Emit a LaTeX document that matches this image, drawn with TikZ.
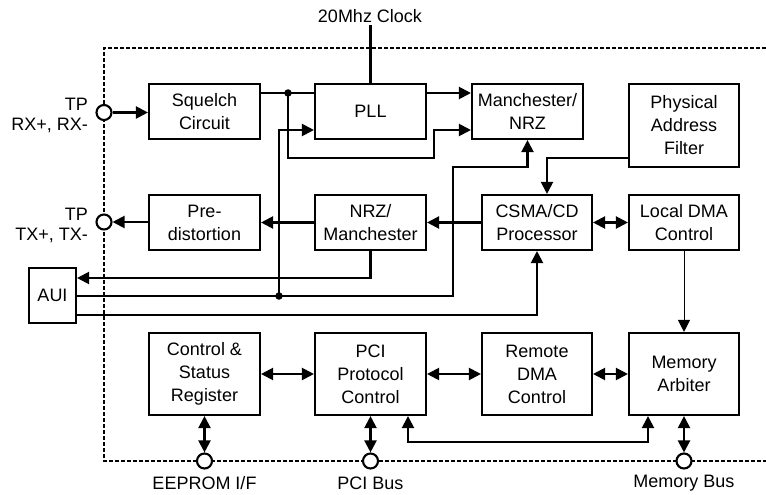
\documentclass[tikz,border=0pt]{standalone}
\usepackage{fontspec}
\setmainfont{Liberation Sans}
\usetikzlibrary{arrows.meta}
\begin{document}
\begin{tikzpicture}[x=1pt,y=-1pt,
  box/.style={draw, line width=2.1pt, minimum width=111pt, minimum height=55pt, align=center, inner sep=0pt, font=\fontsize{18}{23}\selectfont},
  tall/.style={box, minimum height=82pt},
  port/.style={circle, draw, fill=white, line width=2.1pt, minimum size=15pt, inner sep=0pt},
  conn/.style={line width=2.1pt},
  arr/.style={conn, -{Triangle[length=12pt,width=12pt]}},
  thinarr/.style={line width=1pt, -{Triangle[length=12pt,width=12pt]}},
  darr/.style={conn, {Triangle[length=12pt,width=12pt]}-{Triangle[length=12pt,width=12pt]}},
  dot/.style={circle, fill, inner sep=0pt, minimum size=7.5pt},
  lbl/.style={font=\fontsize{18}{20}\selectfont, inner sep=2pt},
  frame/.style={line width=1.5pt, dash pattern=on 4pt off 2pt}
]
\useasboundingbox (0,0) rectangle (766,495);

% dashed chip boundary
\draw[frame] (766,48) -- (104,48) -- (104,461) -- (766,461);

% blocks
\node[box] (sq) at (204.5,111.5) {Squelch\\Circuit};
\node[box] (pll) at (370.5,111.5) {PLL};
\node[box] (mn) at (527.5,111.5) {Manchester/\\NRZ};
\node[box, minimum width=110pt, minimum height=83pt] (paf) at (684,125.5) {Physical\\Address\\Filter};
\node[box] (pre) at (204.5,222.5) {Pre-\\distortion};
\node[box] (nm) at (370.5,222.5) {NRZ/\\Manchester};
\node[box, minimum width=110pt] (csma) at (537,222.5) {CSMA/CD\\Processor};
\node[box, minimum width=110pt] (ldma) at (684,222.5) {Local DMA\\Control};
\node[box, minimum width=47pt] (aui) at (52.5,295.5) {AUI};
\node[tall] (csr) at (204.5,374) {Control \&\\Status\\Register};
\node[tall] (pci) at (370.5,374) {PCI\\Protocol\\Control};
\node[tall, minimum width=110pt] (rdma) at (537,374) {Remote\\DMA\\Control};
\node[tall, minimum width=110pt] (ma) at (684,374) {Memory\\Arbiter};

% ports
\node[port] (rx) at (104,112.5) {};
\node[port] (tx) at (104,222) {};
\node[port] (ee) at (204.5,461) {};
\node[port] (pb) at (370.5,461) {};
\node[port] (mb) at (684,461) {};

% labels
\node[lbl, anchor=east, align=right] (tprx) at (90,115) {TP\\RX+, RX-};
\node[lbl, anchor=east, align=right] (tptx) at (90,225) {TP\\TX+, TX-};
\node[lbl] (eel) at (204.5,483) {EEPROM I/F};
\node[lbl] (pbl) at (370.5,483) {PCI Bus};
\node[lbl] (mbl) at (684,483) {Memory Bus};
\node[lbl] (clk) at (370,16) {20Mhz Clock};

% helper coordinates
\coordinate (yA) at (0,93);
\coordinate (yB) at (0,130);
\coordinate (d1) at (288,93);
\coordinate (j1) at (434,158);
\coordinate (d2) at (279,296);
\coordinate (j2) at (453,167);
\coordinate (yD) at (0,278);
\coordinate (yE) at (0,315);
\coordinate (c1) at (547,158);
\coordinate (b1) at (408,442);
\coordinate (b2) at (648,442);

% connectors
\draw[conn] (pll.north) -- (pll.north |- clk.south);
\draw[arr] (rx) -- (sq.west |- rx);
\draw[conn] (sq.east |- yA) -- (pll.west |- yA);
\draw[arr] (pll.east |- yA) -- (mn.west |- yA);
\draw[arr] (d1) |- (j1) |- (mn.west |- yB);
\draw[arr] (d2) |- (pll.west |- yB);
\draw[arr] (aui.east |- d2) -| (j2) -| (mn.south);
\draw[arr] (nm.west) -- (pre.east);
\draw[arr] (pre.west |- tx) -- (tx);
\draw[arr] (csma.west) -- (nm.east);
\draw[arr] (nm.south) |- (aui.east |- yD);
\draw[arr] (aui.east |- yE) -| (csma.south);
\draw[arr] (paf.west |- c1) -- (c1) -- (c1 |- csma.north);
\draw[darr] (csma.east) -- (ldma.west);
\draw[thinarr] (ldma.south) -- (ma.north);
\draw[darr] (csr.east) -- (pci.west);
\draw[darr] (pci.east) -- (rdma.west);
\draw[darr] (rdma.east) -- (ma.west);
\draw[darr] (b1 |- pci.south) -- (b1) -- (b2) -- (b2 |- ma.south);
\draw[darr] (csr.south) -- (ee);
\draw[darr] (pci.south) -- (pb);
\draw[darr] (ma.south) -- (mb);

% junction dots
\node[dot] (dot1) at (d1) {};
\node[dot] (dot2) at (d2) {};
\end{tikzpicture}
\end{document}
